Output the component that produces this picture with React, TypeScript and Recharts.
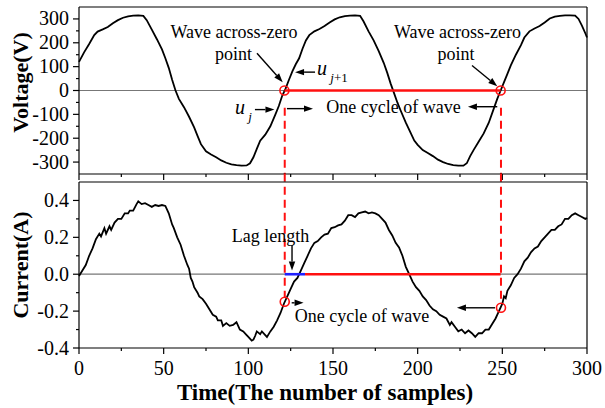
import React from 'react';
import { LineChart, Line, XAxis, YAxis, ReferenceLine, ReferenceDot } from 'recharts';

const FONT = '"Liberation Serif", "Times New Roman", serif';

// voltage wave (sample index -> volts)
const voltageTime = [
  0, 3, 6, 9, 11, 14, 17, 20, 23, 26, 29, 32, 35, 38, 40, 43, 46, 49, 51, 53, 55, 57, 59, 62, 65, 68, 70, 72,
  75, 78, 81, 84, 87, 90, 93, 96, 99, 101, 103, 105, 107, 110, 113, 116, 118, 120, 122, 124, 126, 128, 130,
  132, 134, 136, 139, 142, 145, 148, 151, 154, 157, 160, 163, 166, 168, 171, 174, 177, 180, 182, 184, 186,
  188, 190, 193, 196, 198, 200, 203, 206, 209, 212, 215, 218, 221, 224, 227, 229, 231, 233, 236, 239, 242,
  245, 247, 249, 251, 253, 255, 258, 261, 263, 266, 269, 272, 275, 278, 281, 284, 287, 290, 293, 295, 297,
  299, 300,
];
const voltageValues = [
  120, 160, 195, 232, 247, 256, 266, 282, 295, 305, 311, 314, 315, 313, 295, 255, 215, 172, 135, 95, 45, 0,
  -35, -70, -110, -155, -190, -225, -255, -268, -280, -293, -303, -310, -313, -315, -314, -305, -280, -245,
  -210, -185, -150, -100, -65, -22, 8, 45, 80, 110, 135, 175, 210, 232, 248, 258, 270, 285, 298, 307, 312,
  314, 315, 313, 290, 248, 210, 165, 115, 75, 30, -10, -50, -85, -135, -180, -210, -228, -250, -262, -275,
  -290, -300, -308, -313, -315, -315, -305, -275, -250, -215, -180, -135, -75, -35, 0, 35, 70, 105, 150,
  190, 222, 248, 260, 270, 285, 302, 310, 313, 315, 315, 314, 300, 272, 240, 222,
];

// current wave (sample index -> amperes)
const currentTime = [
  0, 2, 4, 6, 8, 10, 12, 13, 15, 16, 18, 19, 21, 23, 25, 27, 29, 30, 32, 34, 35, 37, 39, 41, 43, 45, 47, 49,
  51, 53, 55, 56, 58, 60, 62, 64, 65, 66, 67, 68, 70, 71, 73, 75, 77, 79, 81, 82, 84, 85, 87, 89, 91, 93, 95,
  97, 99, 100, 102, 103, 104, 105, 107, 108, 110, 111, 113, 115, 117, 119, 121, 123, 125, 127, 129, 131, 133,
  135, 137, 139, 141, 143, 145, 147, 149, 151, 153, 155, 157, 159, 161, 163, 165, 167, 169, 171, 173, 175,
  177, 179, 181, 183, 185, 187, 189, 191, 193, 195, 197, 199, 201, 203, 205, 207, 209, 211, 213, 215, 217,
  219, 220, 222, 224, 226, 228, 230, 232, 234, 236, 238, 240, 242, 244, 246, 248, 250, 251, 252, 253, 255,
  257, 259, 261, 263, 265, 267, 269, 271, 273, 275, 277, 279, 281, 283, 285, 287, 289, 291, 293, 295, 297,
  299, 300,
];
const currentValues = [
  -0.01, 0.02, 0.05, 0.1, 0.14, 0.19, 0.22, 0.205, 0.25, 0.22, 0.26, 0.24, 0.28, 0.3, 0.3, 0.33, 0.33, 0.345,
  0.345, 0.38, 0.395, 0.38, 0.385, 0.375, 0.365, 0.375, 0.37, 0.375, 0.37, 0.33, 0.27, 0.25, 0.2, 0.16, 0.1,
  0.05, 0.03, -0.02, -0.04, -0.07, -0.1, -0.12, -0.135, -0.16, -0.19, -0.22, -0.23, -0.25, -0.25, -0.28,
  -0.265, -0.28, -0.275, -0.26, -0.3, -0.31, -0.33, -0.34, -0.36, -0.355, -0.335, -0.31, -0.325, -0.31,
  -0.33, -0.34, -0.31, -0.285, -0.25, -0.21, -0.16, -0.12, -0.08, -0.04, -0.02, 0.02, 0.06, 0.1, 0.14, 0.17,
  0.18, 0.2, 0.215, 0.22, 0.25, 0.255, 0.265, 0.27, 0.29, 0.32, 0.32, 0.31, 0.33, 0.335, 0.34, 0.33, 0.335,
  0.33, 0.32, 0.3, 0.28, 0.24, 0.21, 0.17, 0.145, 0.1, 0.04, 0.0, -0.04, -0.07, -0.09, -0.12, -0.14, -0.17,
  -0.19, -0.2, -0.22, -0.23, -0.24, -0.275, -0.26, -0.285, -0.31, -0.3, -0.32, -0.305, -0.32, -0.34, -0.32,
  -0.32, -0.3, -0.3, -0.27, -0.24, -0.2, -0.16, -0.12, -0.13, -0.09, -0.06, -0.02, 0.0, 0.03, 0.07, 0.09,
  0.12, 0.14, 0.15, 0.18, 0.2, 0.22, 0.24, 0.24, 0.26, 0.27, 0.3, 0.3, 0.32, 0.33, 0.32, 0.31, 0.3, 0.305,
];

const timeTicks = [0, 25, 50, 75, 100, 125, 150, 175, 200, 225, 250, 275, 300];
const voltageTicks = [-300, -250, -200, -150, -100, -50, 0, 50, 100, 150, 200, 250, 300];
const currentTicks = [-0.4, -0.3, -0.2, -0.1, 0, 0.1, 0.2, 0.3, 0.4];

// zero crossings / markers
const crossTimes = [121.3, 249];
const lagEnd = 133.5;
const currentMarks = [-0.149, -0.182];

const voltageNotes = [
  { t: 91.5, v: 219, text: 'Wave across-zero' },
  { t: 91.2, v: 126, text: 'point' },
  { t: 223.5, v: 219, text: 'Wave across-zero' },
  { t: 222.6, v: 126, text: 'point' },
  { t: 185.7, v: -93, text: 'One cycle of wave' },
];
const voltageArrows = [
  { from: [105.1, 156], to: [120.3, 35] },
  { from: [232.1, 105], to: [247, 18] },
  { from: [139.4, 77], to: [127.6, 77] },
  { from: [103.9, -80], to: [115.4, -80] },
  { from: [122.8, -76], to: [138.2, -76] },
  { from: [247, -68], to: [229.7, -68] },
];
const currentNotes = [
  { t: 113.1, v: 0.175, text: 'Lag length' },
  { t: 167.1, v: -0.259, text: 'One cycle of wave' },
];
const currentArrows = [
  { from: [125.8, 0.158], to: [125.8, 0.02] },
  { from: [125.6, -0.155], to: [132.6, -0.155] },
  { from: [245.7, -0.182], to: [223.2, -0.182] },
];

const arrowShape = (p: any) => {
  const { x1, y1, x2, y2 } = p;
  const dx = x2 - x1;
  const dy = y2 - y1;
  const len = Math.hypot(dx, dy) || 1;
  const ux = dx / len;
  const uy = dy / len;
  const hl = 9;
  const hw = 3.2;
  const bx = x2 - ux * hl;
  const by = y2 - uy * hl;
  return (
    <g>
      <line x1={x1} y1={y1} x2={bx} y2={by} stroke="#000" strokeWidth={1.4} />
      <polygon
        points={`${x2},${y2} ${bx - uy * hw},${by + ux * hw} ${bx + uy * hw},${by - ux * hw}`}
        fill="#000"
      />
    </g>
  );
};

const noteShape = (text: string) => (p: any) => (
  <text x={p.cx} y={p.cy} textAnchor="middle" fontFamily={FONT} fontSize={18} fill="#000">
    {text}
  </text>
);

const XTick = (props: any) => {
  const { x, y, payload, labels } = props;
  const major = payload.value % 50 === 0;
  return (
    <g>
      <line x1={x} x2={x} y1={y} y2={y + (major ? 6 : 3)} stroke="#000" strokeWidth={1.2} />
      {labels && major && (
        <text x={x} y={y + 27} textAnchor="middle" fontFamily={FONT} fontSize={20} fill="#000">
          {payload.value}
        </text>
      )}
    </g>
  );
};

const YTick = (props: any) => {
  const { x, y, payload, step, fmt } = props;
  const idx = Math.round(payload.value / step);
  const major = idx % 2 === 0;
  return (
    <g>
      <line x1={x} x2={x - (major ? 6 : 3)} y1={y} y2={y} stroke="#000" strokeWidth={1.2} />
      {major && (
        <text x={x - 10} y={y + 6.5} textAnchor="end" fontFamily={FONT} fontSize={20} fill="#000">
          {fmt(payload.value)}
        </text>
      )}
    </g>
  );
};

const yTitle = (text: string, dy: number) => (p: any) => {
  const vb = p.viewBox;
  const cx = 20;
  const cy = vb.y + vb.height / 2 + dy;
  return (
    <text
      x={cx}
      y={cy}
      transform={`rotate(-90 ${cx} ${cy})`}
      textAnchor="middle"
      dominantBaseline="central"
      fontFamily={FONT}
      fontWeight="bold"
      fontSize={22}
      fill="#000"
    >
      {text}
    </text>
  );
};

const xTitle = (p: any) => {
  const vb = p.viewBox;
  return (
    <text
      x={vb.x + vb.width / 2 - 8}
      y={vb.y + 52}
      textAnchor="middle"
      fontFamily={FONT}
      fontWeight="bold"
      fontSize={23}
      fill="#000"
    >
      Time(The number of samples)
    </text>
  );
};

const voltageData = voltageTime.map((t, i) => ({ t, v: voltageValues[i] }));
const currentData = currentTime.map((t, i) => ({ t, v: currentValues[i] }));

const RED = '#ff1010';

export default function App() {
  return (
    <div style={{ position: 'absolute', left: 0, top: 0, width: 605, height: 408, background: '#fff' }}>
      <div style={{ position: 'absolute', left: 0, top: 0 }}>
        <LineChart width={605} height={182} margin={{ top: 6, right: 17, bottom: 0, left: 0 }}>
          <XAxis
            dataKey="t"
            type="number"
            domain={[0, 300]}
            ticks={timeTicks}
            interval={0}
            height={8}
            tickSize={0}
            tickMargin={0}
            tickLine={false}
            tick={<XTick labels={false} />}
            axisLine={{ stroke: '#000', strokeWidth: 1.2 }}
          />
          <XAxis
            xAxisId="top"
            orientation="top"
            type="number"
            domain={[0, 300]}
            height={1}
            tick={false}
            tickLine={false}
            axisLine={{ stroke: '#000', strokeWidth: 1.2 }}
          />
          <YAxis
            type="number"
            domain={[-350, 350]}
            ticks={voltageTicks}
            interval={0}
            width={79}
            tickSize={0}
            tickMargin={0}
            tickLine={false}
            tick={<YTick step={50} fmt={(v: number) => String(v)} />}
            axisLine={{ stroke: '#000', strokeWidth: 1.2 }}
            label={{ content: yTitle('Voltage(V)', -8) }}
          />
          <YAxis
            yAxisId="r"
            orientation="right"
            type="number"
            domain={[-350, 350]}
            width={1}
            tick={false}
            tickLine={false}
            axisLine={{ stroke: '#000', strokeWidth: 1.2 }}
          />
          <ReferenceLine y={0} stroke="#777" strokeWidth={1.2} />
          <Line
            data={voltageData}
            dataKey="v"
            stroke="#000"
            strokeWidth={1.8}
            dot={false}
            isAnimationActive={false}
          />
          <ReferenceLine
            segment={[{ x: crossTimes[0], y: 0 }, { x: crossTimes[1], y: 0 }]}
            stroke={RED}
            strokeWidth={2.6}
          />
          {crossTimes.map((t) => (
            <ReferenceLine
              key={`vd${t}`}
              segment={[{ x: t + 0.2, y: -72 }, { x: t + 0.2, y: -350 }]}
              stroke={RED}
              strokeWidth={2}
              strokeDasharray="8 5"
              ifOverflow="visible"
            />
          ))}
          {crossTimes.map((t) => (
            <ReferenceDot key={`vc${t}`} x={t} y={0} r={4.5} fill="none" stroke={RED} strokeWidth={1.6} />
          ))}
          {voltageArrows.map((a, i) => (
            <ReferenceLine
              key={`va${i}`}
              segment={[{ x: a.from[0], y: a.from[1] }, { x: a.to[0], y: a.to[1] }]}
              shape={arrowShape}
              ifOverflow="visible"
            />
          ))}
          {voltageNotes.map((n, i) => (
            <ReferenceDot key={`vn${i}`} x={n.t} y={n.v} r={0} shape={noteShape(n.text)} />
          ))}
          <ReferenceDot
            x={140.6}
            y={63}
            r={0}
            shape={(p: any) => (
              <text x={p.cx} y={p.cy} fontFamily={FONT} fontSize={20} fill="#000">
                <tspan fontStyle="italic">u</tspan>
                <tspan dy={7} fontSize={13}>
                  <tspan fontStyle="italic"> j</tspan>+1
                </tspan>
              </text>
            )}
          />
          <ReferenceDot
            x={92.1}
            y={-97}
            r={0}
            shape={(p: any) => (
              <text x={p.cx} y={p.cy} fontFamily={FONT} fontSize={20} fill="#000">
                <tspan fontStyle="italic">u</tspan>
                <tspan dy={7} fontSize={13} fontStyle="italic">
                  {' j'}
                </tspan>
              </text>
            )}
          />
        </LineChart>
      </div>
      <div style={{ position: 'absolute', left: 0, top: 168 }}>
        <LineChart width={605} height={240} margin={{ top: 13, right: 17, bottom: 0, left: 0 }}>
          <XAxis
            dataKey="t"
            type="number"
            domain={[0, 300]}
            ticks={timeTicks}
            interval={0}
            height={60}
            tickSize={0}
            tickMargin={0}
            tickLine={false}
            tick={<XTick labels />}
            axisLine={{ stroke: '#000', strokeWidth: 1.2 }}
            label={{ content: xTitle }}
          />
          <XAxis
            xAxisId="top"
            orientation="top"
            type="number"
            domain={[0, 300]}
            height={1}
            tick={false}
            tickLine={false}
            axisLine={{ stroke: '#000', strokeWidth: 1.2 }}
          />
          <YAxis
            type="number"
            domain={[-0.4, 0.5]}
            ticks={currentTicks}
            interval={0}
            width={79}
            tickSize={0}
            tickMargin={0}
            tickLine={false}
            tick={<YTick step={0.1} fmt={(v: number) => v.toFixed(1)} />}
            axisLine={{ stroke: '#000', strokeWidth: 1.2 }}
            label={{ content: yTitle('Current(A)', 0) }}
          />
          <YAxis
            yAxisId="r"
            orientation="right"
            type="number"
            domain={[-0.4, 0.5]}
            width={1}
            tick={false}
            tickLine={false}
            axisLine={{ stroke: '#000', strokeWidth: 1.2 }}
          />
          <ReferenceLine y={0} stroke="#777" strokeWidth={1.2} />
          <Line
            data={currentData}
            dataKey="v"
            stroke="#000"
            strokeWidth={1.8}
            dot={false}
            isAnimationActive={false}
          />
          <ReferenceLine
            segment={[{ x: crossTimes[0] + 0.2, y: 0 }, { x: lagEnd, y: 0 }]}
            stroke="#2020ff"
            strokeWidth={2.6}
          />
          <ReferenceLine
            segment={[{ x: lagEnd, y: 0 }, { x: crossTimes[1], y: 0 }]}
            stroke={RED}
            strokeWidth={2.6}
          />
          {crossTimes.map((t, i) => (
            <ReferenceLine
              key={`cd${t}`}
              segment={[{ x: t + 0.2, y: 0.545 }, { x: t + 0.2, y: currentMarks[i] + 0.025 }]}
              stroke={RED}
              strokeWidth={2}
              strokeDasharray="8 5"
              ifOverflow="visible"
            />
          ))}
          {crossTimes.map((t, i) => (
            <ReferenceDot
              key={`cc${t}`}
              x={t + 0.2}
              y={currentMarks[i]}
              r={4.5}
              fill="none"
              stroke={RED}
              strokeWidth={1.6}
            />
          ))}
          {currentArrows.map((a, i) => (
            <ReferenceLine
              key={`ca${i}`}
              segment={[{ x: a.from[0], y: a.from[1] }, { x: a.to[0], y: a.to[1] }]}
              shape={arrowShape}
              ifOverflow="visible"
            />
          ))}
          {currentNotes.map((n, i) => (
            <ReferenceDot key={`cn${i}`} x={n.t} y={n.v} r={0} shape={noteShape(n.text)} />
          ))}
        </LineChart>
      </div>
    </div>
  );
}
